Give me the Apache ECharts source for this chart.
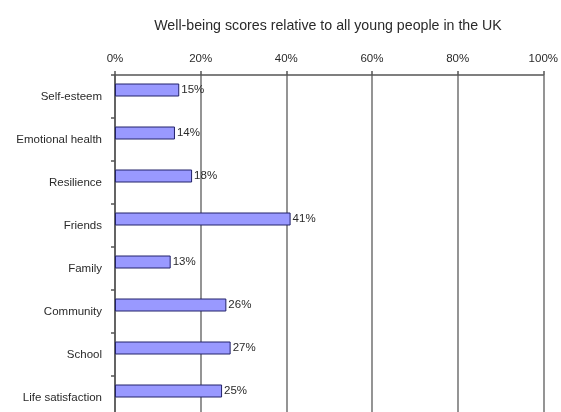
<!DOCTYPE html>
<html>
<head>
<meta charset="utf-8">
<script src="https://cdn.jsdelivr.net/npm/echarts@6/dist/echarts.min.js"></script>
<style>
  html, body { margin: 0; padding: 0; background: #ffffff; overflow: hidden; }
  /* the plot runs a little past the bottom of the 412px view */
  #chart { width: 561px; height: 430px; }
</style>
</head>
<body>
<div id="chart"></div>
<script>
// Well-being domains and their scores (%)
const categories = ['Self-esteem', 'Emotional health', 'Resilience', 'Friends', 'Family', 'Community', 'School', 'Life satisfaction'];
const scores = [15, 14, 18, 41, 13, 26, 27, 25];
const axisTicks = [0, 20, 40, 60, 80, 100];

const chart = echarts.init(document.getElementById('chart'), null, { renderer: 'canvas' });

const font = 'Liberation Sans, Arial, sans-serif';

chart.setOption({
  animation: false,
  backgroundColor: '#ffffff',
  title: {
    text: 'Well-being scores relative to all young people in the UK',
    left: 323,
    top: 14,
    textAlign: 'center',
    textStyle: { fontFamily: font, fontSize: 14.2, fontWeight: 'normal', color: '#2a2a2a' }
  },
  grid: { left: 115, width: 430, top: 75, height: 344, containLabel: false },
  xAxis: {
    type: 'value',
    position: 'top',
    min: axisTicks[0],
    max: axisTicks[axisTicks.length - 1],
    interval: axisTicks[1] - axisTicks[0],
    axisLine: { show: true, lineStyle: { color: '#555', width: 1.5 } },
    axisTick: { show: true, length: 4, lineStyle: { color: '#555', width: 1.5 } },
    axisLabel: {
      formatter: '{value}%', margin: 10,
      fontFamily: font, fontSize: 11.5, color: '#2a2a2a'
    },
    splitLine: { show: true, lineStyle: { color: '#7a7a7a', width: 1.6 } }
  },
  yAxis: {
    type: 'category',
    data: categories,
    inverse: true,
    axisLine: { show: true, lineStyle: { color: '#555', width: 1.5 } },
    axisTick: { show: true, length: 4, lineStyle: { color: '#555', width: 1.5 } },
    axisLabel: { margin: 13, fontFamily: font, fontSize: 11.5, color: '#2a2a2a' }
  },
  series: [
    {
      type: 'bar',
      data: scores,
      barWidth: 13,
      barGap: '0%',
      itemStyle: { color: '#9999ff', borderColor: '#22226a', borderWidth: 1 },
      label: {
        show: true, position: 'right', distance: 2,
        formatter: '{c}%', fontFamily: font, fontSize: 11.5, color: '#2a2a2a'
      }
    },
    {
      type: 'bar',
      data: categories.map(() => null),
      barWidth: 13,
      silent: true
    }
  ]
});
</script>
</body>
</html>
